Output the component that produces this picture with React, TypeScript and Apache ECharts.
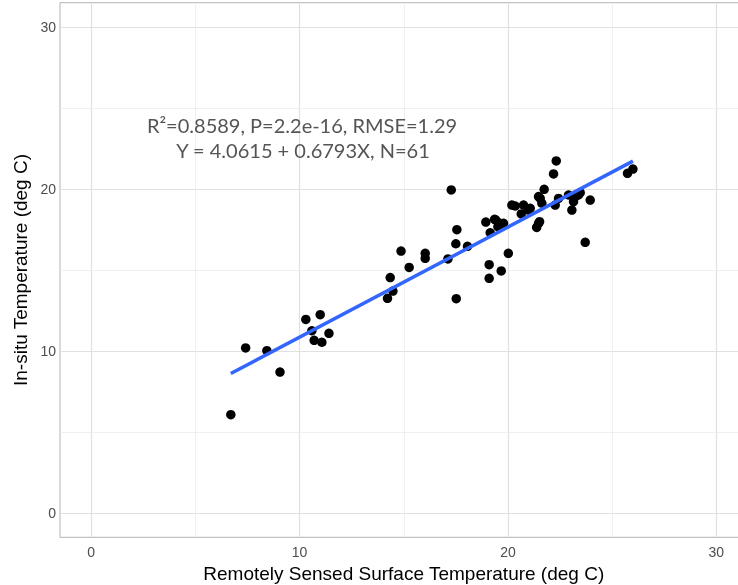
import React, { useEffect, useRef } from "react";
import * as echarts from "echarts";

const xValues = [
  6.70, 7.41, 8.43, 9.06, 10.30, 10.99, 10.59, 10.70, 11.07, 11.41,
  14.22, 14.48, 14.35, 14.87, 15.26, 16.03, 16.03, 17.12, 17.28, 17.50,
  17.55, 17.52, 18.06, 18.94, 19.15, 19.36, 19.52, 19.55, 19.79, 19.10,
  19.10, 19.68, 20.02, 20.19, 20.35, 20.75, 20.64, 20.99, 21.07, 21.47,
  21.63, 21.55, 21.74, 21.47, 21.52, 21.38, 22.19, 22.32, 22.27, 22.43,
  22.91, 23.15, 23.07, 23.39, 23.47, 23.95, 23.71, 25.74, 26.00, 19.41,
  23.23,
];
const yValues = [
  6.07, 10.19, 10.02, 8.70, 11.95, 12.24, 11.25, 10.66, 10.54, 11.09,
  13.25, 13.70, 14.53, 16.17, 15.16, 16.03, 15.72, 15.68, 19.94, 16.62,
  17.49, 13.23, 16.46, 17.96, 17.30, 18.13, 17.67, 17.92, 17.88, 15.33,
  14.49, 14.94, 16.03, 19.01, 18.95, 19.01, 18.46, 18.70, 18.81, 19.53,
  19.12, 19.42, 19.98, 17.88, 17.98, 17.63, 20.93, 21.73, 19.01, 19.42,
  19.63, 19.22, 18.70, 19.63, 19.77, 19.32, 16.71, 20.97, 21.23, 18.09,
  19.53,
];
const intercept = 4.0615;
const slope = 0.6793;
const majorTicks = [0, 10, 20, 30];
const minorTicks = [5, 15, 25];
const annotationLines = [
  "R\u00b2=0.8589, P=2.2e-16, RMSE=1.29",
  "Y = 4.0615 + 0.6793X, N=61",
];
const xTitle = "Remotely Sensed Surface Temperature (deg C)";
const yTitle = "In-situ Temperature (deg C)";

export default function App() {
  const ref = useRef<HTMLDivElement>(null);
  useEffect(() => {
    if (!ref.current) return;
    const chart = echarts.init(ref.current, undefined, { renderer: "svg" });
    const points = xValues.map((x, i) => [x, yValues[i]]);
    const xmin = Math.min(...xValues);
    const xmax = Math.max(...xValues);
    const fit = [
      [xmin, intercept + slope * xmin],
      [xmax, intercept + slope * xmax],
    ];
    const majorStyle = { color: "#e0e0e0", width: 1.2, type: "solid" };
    const minorStyle = { color: "#ececec", width: 0.8, type: "solid" };
    const gridLines: any[] = [];
    majorTicks.forEach((v) => {
      gridLines.push({ xAxis: v, lineStyle: majorStyle });
      gridLines.push({ yAxis: v, lineStyle: majorStyle });
    });
    minorTicks.forEach((v) => {
      gridLines.push({ xAxis: v, lineStyle: minorStyle });
      gridLines.push({ yAxis: v, lineStyle: minorStyle });
    });
    const axisCommon = {
      type: "value",
      min: -1.5,
      max: 31.5,
      axisLine: { show: false },
      axisTick: {
        show: true,
        length: 3,
        customValues: majorTicks,
        lineStyle: { color: "#b3b3b3", width: 1 },
      },
      splitLine: { show: false },
      nameLocation: "middle",
      nameTextStyle: {
        fontFamily: "Liberation Sans, Arial, sans-serif",
        fontSize: 19,
        color: "#000000",
      },
    };
    chart.setOption({
      animation: false,
      grid: {
        left: 60,
        top: 2.7,
        right: 0.5,
        height: 534.6,
        outerBoundsMode: "none",
        containLabel: false,
        show: true,
        borderColor: "#b3b3b3",
        borderWidth: 1,
        backgroundColor: "transparent",
      },
      xAxis: {
        ...axisCommon,
        name: xTitle,
        nameGap: 23,
        axisLabel: {
          customValues: majorTicks,
          margin: 8,
          color: "#4d4d4d",
          fontSize: 14,
          fontFamily: "Liberation Sans, Arial, sans-serif",
        },
      },
      yAxis: {
        ...axisCommon,
        name: yTitle,
        nameGap: 27,
        axisLabel: {
          customValues: majorTicks,
          margin: 4,
          color: "#4d4d4d",
          fontSize: 14,
          fontFamily: "Liberation Sans, Arial, sans-serif",
        },
      },
      graphic: [
        {
          type: "text",
          x: 302,
          y: 125,
          style: {
            text: annotationLines[0],
            fontFamily: "Lato, Open Sans, sans-serif",
            fontSize: 20,
            fill: "#555555",
            textAlign: "center",
            textVerticalAlign: "middle",
          },
          z: 10,
        },
        {
          type: "text",
          x: 303,
          y: 150,
          style: {
            text: annotationLines[1],
            fontFamily: "Lato, Open Sans, sans-serif",
            fontSize: 20,
            fill: "#555555",
            textAlign: "center",
            textVerticalAlign: "middle",
          },
          z: 10,
        },
      ],
      series: [
        {
          type: "line",
          data: [],
          z: 1,
          silent: true,
          markLine: {
            silent: true,
            z: 1,
            symbol: ["none", "none"],
            label: { show: false },
            emphasis: { disabled: true },
            data: gridLines,
          },
        },
        {
          type: "scatter",
          data: points,
          symbolSize: 9.5,
          itemStyle: { color: "#000000", opacity: 1 },
          z: 3,
        },
        {
          type: "line",
          data: fit,
          showSymbol: false,
          symbol: "none",
          lineStyle: { color: "#3366FF", width: 3.5 },
          z: 4,
        },
      ],
    });
    return () => chart.dispose();
  }, []);
  return (
    <div
      ref={ref}
      style={{ position: "fixed", left: 0, top: 0, width: 748, height: 585 }}
    />
  );
}
